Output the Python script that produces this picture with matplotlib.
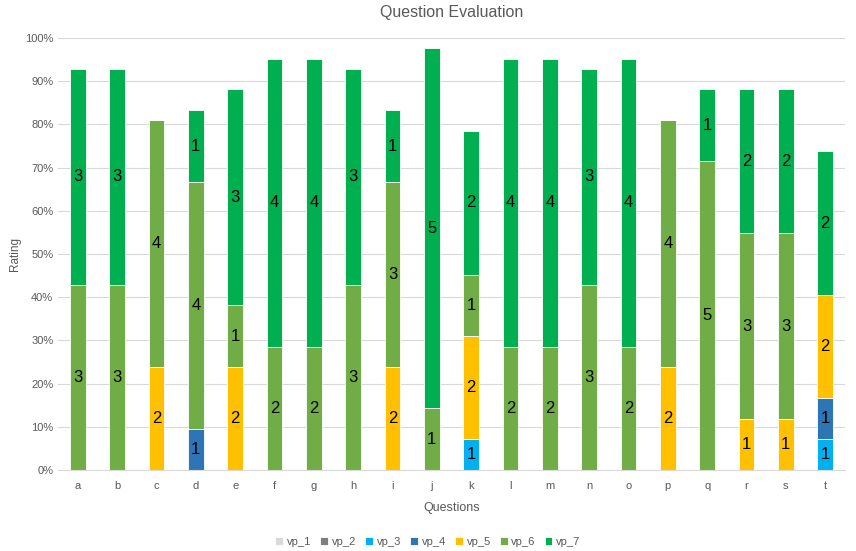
import numpy as np
import matplotlib
matplotlib.use("Agg")
import matplotlib.pyplot as plt

plt.rcParams['font.family'] = ['Liberation Sans', 'DejaVu Sans']

questions = list("abcdefghijklmnopqrst")
# number of answers per rating level for each question (6 respondents)
vp_1 = [0, 0, 0, 0, 0, 0, 0, 0, 0, 0, 0, 0, 0, 0, 0, 0, 0, 0, 0, 0]
vp_2 = [0, 0, 0, 0, 0, 0, 0, 0, 0, 0, 0, 0, 0, 0, 0, 0, 0, 0, 0, 0]
vp_3 = [0, 0, 0, 0, 0, 0, 0, 0, 0, 0, 1, 0, 0, 0, 0, 0, 0, 0, 0, 1]
vp_4 = [0, 0, 0, 1, 0, 0, 0, 0, 0, 0, 0, 0, 0, 0, 0, 0, 0, 0, 0, 1]
vp_5 = [0, 0, 2, 0, 2, 0, 0, 0, 2, 0, 2, 0, 0, 0, 0, 2, 0, 1, 1, 2]
vp_6 = [3, 3, 4, 4, 1, 2, 2, 3, 3, 1, 1, 2, 2, 3, 2, 4, 5, 3, 3, 0]
vp_7 = [3, 3, 0, 1, 3, 4, 4, 3, 1, 5, 2, 4, 4, 3, 4, 0, 1, 2, 2, 2]

series = [("vp_1", vp_1), ("vp_2", vp_2), ("vp_3", vp_3), ("vp_4", vp_4),
          ("vp_5", vp_5), ("vp_6", vp_6), ("vp_7", vp_7)]
colors = ["#D9D9D9", "#7F7F7F", "#00B0F0", "#2E75B6", "#FFC000", "#70AD47", "#00B050"]
MAX_SCORE = 7 * 6  # weighted share of the maximum possible score

fig = plt.figure(figsize=(8.56, 5.51), dpi=100)
ax = fig.add_axes([0.068, 0.147, 0.919, 0.784])

x = np.arange(len(questions))
bottom = np.zeros(len(questions))
for level, ((name, counts), col) in enumerate(zip(series, colors), start=1):
    counts = np.array(counts)
    h = level * counts / MAX_SCORE
    ax.bar(x, h, 0.4, bottom=bottom, color=col, edgecolor="white", linewidth=0.6,
           label=name, zorder=2)
    for xi, b, hi, c in zip(x, bottom, h, counts):
        if c > 0:
            ax.text(xi, b + hi / 2, str(c), ha="center", va="center",
                    fontsize=12, color="black", zorder=3)
    bottom += h

ax.set_xlim(-0.5, len(questions) - 0.5)
ax.set_ylim(0, 1.0)
ax.set_yticks(np.arange(0, 1.01, 0.1))
ax.set_yticklabels([f"{int(round(v * 100))}%" for v in np.arange(0, 1.01, 0.1)])
ax.set_xticks(x)
ax.set_xticklabels(questions)
ax.tick_params(axis="both", length=0, labelsize=8, labelcolor="#595959")
ax.tick_params(axis="x", pad=8)
ax.grid(axis="y", color="#D9D9D9", linewidth=0.8, zorder=0)
for s in ["top", "right", "left"]:
    ax.spines[s].set_visible(False)
ax.spines["bottom"].set_color("#D9D9D9")

ax.set_title("Question Evaluation", fontsize=11.5, color="#595959", pad=15)
ax.set_xlabel("Questions", fontsize=9, color="#595959", labelpad=8)
ax.set_ylabel("Rating", fontsize=8.5, color="#595959", labelpad=3)

fig.legend(loc="lower center", bbox_to_anchor=(0.5, -0.01), ncol=7, frameon=False,
           fontsize=8, labelcolor="#595959", handlelength=0.7, handleheight=0.7,
           handletextpad=0.35, columnspacing=0.8)

fig.savefig("out.png", dpi=100, facecolor="white")
